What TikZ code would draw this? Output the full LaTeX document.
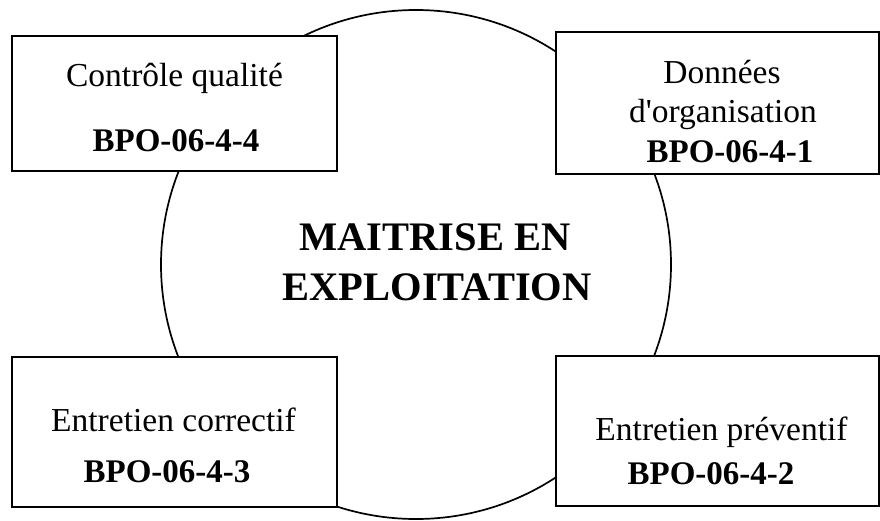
\documentclass[tikz,border=0pt]{standalone}
\usepackage{fontspec}
\setmainfont{Liberation Serif}
\newfontfamily\plainserif{Liberation Serif}
\usetikzlibrary{shapes.geometric}
\begin{document}
\begin{tikzpicture}[x=1pt,y=-1pt,
  boxnode/.style={draw=black, line width=1.8pt, fill=white, rectangle, inner sep=0pt},
  regtext/.style={anchor=base, inner sep=0pt, font=\plainserif\fontsize{33.5}{40}\selectfont},
  boldtext/.style={anchor=base, inner sep=0pt, font=\plainserif\fontsize{33}{40}\selectfont\bfseries},
  titletext/.style={anchor=base, inner sep=0pt, font=\plainserif\fontsize{40.5}{50}\selectfont\bfseries}]
\useasboundingbox (0,0) rectangle (880,520);
% central ring
\node[draw=black, line width=1.7pt, ellipse, minimum width=510pt, minimum height=509pt, inner sep=0pt] (ring) at (416,264.5) {};
% boxes
\node[boxnode, minimum width=325pt, minimum height=135pt] (tl) at (174.5,103.5) {};
\node[boxnode, minimum width=323pt, minimum height=142pt] (tr) at (717.5,103) {};
\node[boxnode, minimum width=325pt, minimum height=150pt] (bl) at (174.5,432) {};
\node[boxnode, minimum width=323pt, minimum height=150pt] (br) at (717.5,431) {};
% texts
\node[regtext] (tl1) at (174.5,86) {Contrôle qualité};
\node[boldtext] (tl2) at (176,151) {BPO-06-4-4};
\node[regtext] (tr1) at (722,83) {Données};
\node[regtext] (tr2) at (723,122) {d'organisation};
\node[boldtext] (tr3) at (730,162) {BPO-06-4-1};
\node[regtext] (bl1) at (173.5,431) {Entretien correctif};
\node[boldtext] (bl2) at (167,482) {BPO-06-4-3};
\node[regtext] (br1) at (721.5,440) {Entretien préventif};
\node[boldtext] (br2) at (711,484) {BPO-06-4-2};
\node[titletext] (title1) at (435,250) {MAITRISE EN};
\node[titletext] (title2) at (437,300) {EXPLOITATION};
\end{tikzpicture}
\end{document}
